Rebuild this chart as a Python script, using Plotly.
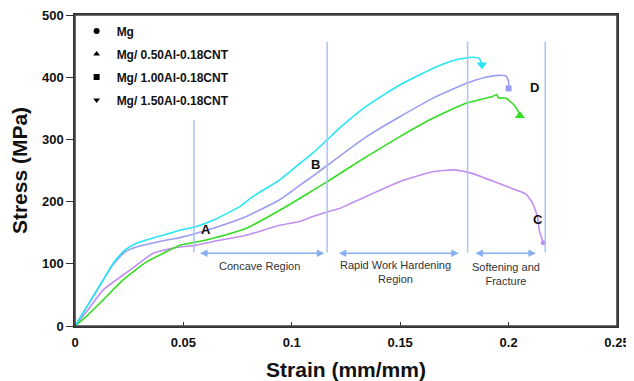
import plotly.graph_objects as go

# ---------------- data ----------------
mg_strain = [0, 0.006, 0.013, 0.0222, 0.0284, 0.036, 0.0437, 0.0483, 0.056, 0.0637, 0.079, 0.0944,
             0.1036, 0.1097, 0.1159, 0.122, 0.1266, 0.1496, 0.165, 0.175, 0.1834, 0.1957, 0.204,
             0.208, 0.211, 0.2133, 0.2141, 0.2152, 0.216]
mg_stress = [0, 26, 58, 82, 98, 117, 124, 127, 130, 136, 146, 162,
             168, 176, 183, 189, 196, 232, 248, 251, 245, 229, 218,
             212, 198, 176, 155, 142, 134]

al050_strain = [0, 0.006, 0.013, 0.0222, 0.033, 0.0437, 0.0483, 0.056, 0.0637, 0.079, 0.0944, 0.1036,
                0.1097, 0.119, 0.1343, 0.1496, 0.165, 0.1803, 0.1926, 0.1945, 0.1952, 0.1988, 0.2026,
                0.2049, 0.2052]
al050_stress = [0, 18, 42, 74, 103, 122, 130, 135, 141, 157, 186, 205,
                218, 238, 272, 304, 334, 358, 369, 372, 367, 366, 355,
                342, 338]

al100_strain = [0, 0.006, 0.013, 0.0176, 0.023, 0.0284, 0.0437, 0.0483, 0.056, 0.0637, 0.079, 0.0944,
                0.1036, 0.1097, 0.119, 0.1343, 0.1496, 0.165, 0.1803, 0.1895, 0.1957, 0.1988, 0.2,
                0.2]
al100_stress = [0, 34, 74, 99, 119, 127, 139, 142, 149, 157, 176, 203,
                226, 241, 265, 304, 336, 366, 390, 400, 403, 402, 393,
                382]

al150_strain = [0, 0.006, 0.013, 0.0176, 0.023, 0.0284, 0.0437, 0.0483, 0.056, 0.0637, 0.076, 0.082,
                0.0944, 0.1036, 0.1097, 0.1159, 0.122, 0.1343, 0.1496, 0.165, 0.1757, 0.1834, 0.1865,
                0.1877]
al150_stress = [0, 34, 74, 101, 122, 133, 149, 154, 160, 170, 192, 208,
                235, 261, 278, 298, 318, 353, 387, 414, 428, 432, 430,
                420]

series_names = ["Mg", "Mg/ 0.50Al-0.18CNT", "Mg/ 1.00Al-0.18CNT", "Mg/ 1.50Al-0.18CNT"]
series_strain = [mg_strain, al050_strain, al100_strain, al150_strain]
series_stress = [mg_stress, al050_stress, al100_stress, al150_stress]
series_colors = ["#c18ff0", "#33dd22", "#9c9cf0", "#25e6f4"]
series_symbols = ["circle", "triangle-up", "square", "triangle-down"]
series_msize = [5, 9, 6, 9]

# region boundaries (strain) and their extents (stress)
boundary_strain = [0.0549, 0.1163, 0.1811, 0.2169]
boundary_top = [331, 457, 457, 457]
boundary_bottom = 118

region_labels = ["Concave Region", "Rapid Work Hardening<br>Region", "Softening and<br>Fracture"]
region_label_x = [0.085, 0.148, 0.199]
region_label_y = [96, 87, 84]
region_arrow_from = [0.0570, 0.1210, 0.1840]
region_arrow_to = [0.1150, 0.1770, 0.2126]
arrow_level = 117

point_labels = ["A", "B", "C", "D"]
point_x = [0.0606, 0.1110, 0.2136, 0.2118]
point_y = [155, 260, 172, 384]

x_ticks = [0, 0.05, 0.1, 0.15, 0.2, 0.25]
y_ticks = [0, 100, 200, 300, 400, 500]

FONT = "Liberation Sans, Arial, sans-serif"

fig = go.Figure()

for name, xs, ys, col, sym, ms in zip(series_names, series_strain, series_stress,
                                      series_colors, series_symbols, series_msize):
    fig.add_trace(go.Scatter(x=xs, y=ys, mode="lines",
                             line=dict(color=col, width=1.6, shape="spline", smoothing=0.5),
                             showlegend=False, hoverinfo="skip"))
    fig.add_trace(go.Scatter(x=[xs[-1]], y=[ys[-1]], mode="markers",
                             marker=dict(symbol=sym, size=ms, color=col),
                             showlegend=False, hoverinfo="skip"))

for i, (name, sym) in enumerate(zip(series_names, series_symbols)):
    fig.add_trace(go.Scatter(x=[None], y=[None], mode="markers", name=name,
                             legendgroup=str(i),
                             marker=dict(symbol=sym, size=6, color="black")))

for bx, bt in zip(boundary_strain, boundary_top):
    fig.add_shape(type="line", x0=bx, x1=bx, y0=boundary_bottom, y1=bt, xref="x", yref="y",
                  line=dict(color="#a9c3f3", width=1.5))

# plot frame
fig.add_shape(type="rect", xref="paper", yref="paper", x0=0, x1=1, y0=0, y1=1,
              line=dict(color="#444444", width=1.6), fillcolor="rgba(0,0,0,0)", layer="above")

for x0, x1 in zip(region_arrow_from, region_arrow_to):
    fig.add_annotation(x=x1, y=arrow_level, ax=x0, ay=arrow_level, xref="x", yref="y",
                       axref="x", ayref="y", text="", showarrow=True, arrowhead=2,
                       arrowside="end+start", arrowsize=1, arrowwidth=1.5, arrowcolor="#86b0f2")

for t, x, y in zip(region_labels, region_label_x, region_label_y):
    fig.add_annotation(x=x, y=y, text=t, showarrow=False, xref="x", yref="y",
                       font=dict(family=FONT, size=11, color="#333333"))

for t, x, y in zip(point_labels, point_x, point_y):
    fig.add_annotation(x=x, y=y, text="<b>%s</b>" % t, showarrow=False, xref="x", yref="y",
                       font=dict(family=FONT, size=13, color="#111111"))

# the page body adds an 8px offset, so the figure is sized/margined to compensate
fig.update_layout(
    width=626, height=373,
    margin=dict(l=67, r=17, t=7, b=55),
    paper_bgcolor="white", plot_bgcolor="white",
    font=dict(family=FONT, color="#111111"),
    legend=dict(x=0.003, y=0.995, xanchor="left", yanchor="top", bgcolor="rgba(0,0,0,0)",
                font=dict(family=FONT, size=12, color="#111111", weight="bold"),
                traceorder="grouped", tracegroupgap=4, itemwidth=30),
    xaxis=dict(range=[0, 0.25], tickvals=x_ticks, ticktext=[str(v) for v in x_ticks],
               automargin=False, ticklabeloverflow="allow", ticklabelstandoff=4,
               showgrid=False, zeroline=False, showline=True, linecolor="#333333", linewidth=1.5,
               mirror=True, ticks="inside", ticklen=4, tickcolor="#333333",
               tickfont=dict(family=FONT, size=13, weight="bold"),
               title=dict(text="<b>Strain (mm/mm)</b>", font=dict(family=FONT, size=21), standoff=14)),
    yaxis=dict(range=[0, 500], tickvals=y_ticks, automargin=False, ticklabeloverflow="allow",
               showgrid=False, zeroline=False, showline=True, linecolor="#333333", linewidth=1.5,
               mirror=True, ticks="outside", ticklen=7, tickcolor="#333333",
               tickfont=dict(family=FONT, size=13, weight="bold"),
               title=dict(text="<b>Stress (MPa)</b>", font=dict(family=FONT, size=21), standoff=10)),
)

fig.write_html("out.html")
